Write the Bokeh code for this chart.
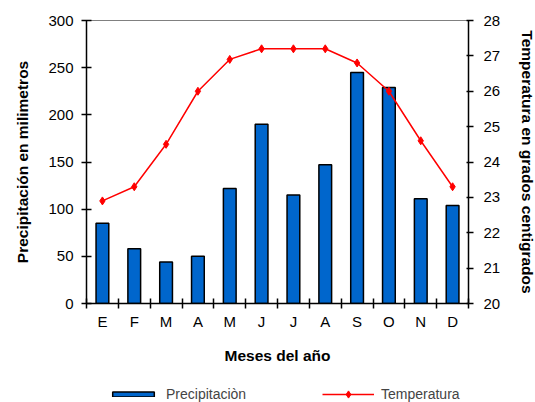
from bokeh.plotting import figure
from bokeh.layouts import column
from bokeh.models import (Range1d, LinearAxis, FixedTicker, Legend, LegendItem)
from bokeh.embed import file_html
from bokeh.resources import INLINE

# Monthly climate data
months = ["E", "F", "M", "A", "M", "J", "J", "A", "S", "O", "N", "D"]
precipitation = [85, 58, 44, 50, 122, 190, 115, 147, 245, 229, 111, 104]
temperature = [22.9, 23.3, 24.5, 26.0, 26.9, 27.2, 27.2, 27.2, 26.8, 26.0, 24.6, 23.3]
precip_ticks = [0, 50, 100, 150, 200, 250, 300]
temp_ticks = [20, 21, 22, 23, 24, 25, 26, 27, 28]

FONT = "Liberation Sans"
BAR_STYLE = dict(fill_color="#0066CC", line_color="black", line_width=1.5)
LINE_STYLE = dict(line_color="#FF0000", line_width=1.5)
MARKER_STYLE = dict(marker="diamond", size=8, fill_color="#FF0000", line_color="#FF0000")

x = list(range(1, len(months) + 1))

p = figure(frame_width=382, frame_height=283, output_backend="svg", toolbar_location=None,
           x_range=Range1d(0.5, len(months) + 0.5), y_range=Range1d(0, 300),
           min_border_left=86, min_border_right=67, min_border_top=20,
           min_border_bottom=62, x_axis_location=None, y_axis_location=None)
p.xgrid.visible = False
p.ygrid.visible = False
p.outline_line_color = "#808080"
p.outline_line_width = 1
p.background_fill_color = "white"
p.border_fill_color = "white"

p.extra_y_ranges = {"temp": Range1d(20, 28)}

# Bars: precipitation
p.vbar(x=x, top=precipitation, width=0.4, **BAR_STYLE)

# Line: temperature on the secondary axis
p.line(x=x, y=temperature, y_range_name="temp", **LINE_STYLE)
p.scatter(x=x, y=temperature, y_range_name="temp", **MARKER_STYLE)

def style_axis(ax):
    ax.axis_line_color = "black"
    ax.axis_line_width = 1.5
    ax.major_tick_line_color = "black"
    ax.major_tick_line_width = 1.5
    ax.minor_tick_line_color = "black"
    ax.minor_tick_line_width = 1.5
    ax.major_label_text_font = FONT
    ax.major_label_text_font_size = "15px"
    ax.major_label_text_color = "black"
    ax.axis_label_text_font = FONT
    ax.axis_label_text_font_size = "15.5px"
    ax.axis_label_text_font_style = "bold"
    ax.axis_label_text_color = "black"

# Bottom axis: month labels at centers, ticks between months
xaxis = LinearAxis(ticker=FixedTicker(ticks=x, minor_ticks=[i + 0.5 for i in range(len(months) + 1)]),
                   axis_label="Meses del año")
xaxis.major_label_overrides = {i + 1: m for i, m in enumerate(months)}
style_axis(xaxis)
xaxis.major_tick_in = 0
xaxis.major_tick_out = 0
xaxis.minor_tick_in = 5
xaxis.minor_tick_out = 5
xaxis.major_label_standoff = 4
xaxis.axis_label_standoff = 14
p.add_layout(xaxis, "below")

# Left axis: precipitation
yaxis = LinearAxis(ticker=FixedTicker(ticks=precip_ticks),
                   axis_label="Precipitación en milimetros")
style_axis(yaxis)
yaxis.major_tick_in = 5
yaxis.major_tick_out = 5
yaxis.minor_tick_line_color = None
yaxis.major_label_standoff = 8
yaxis.axis_label_standoff = 14
p.add_layout(yaxis, "left")

# Right axis: temperature
taxis = LinearAxis(y_range_name="temp", ticker=FixedTicker(ticks=temp_ticks),
                   axis_label="Temperatura en grados centigrados")
style_axis(taxis)
taxis.major_tick_in = 2
taxis.major_tick_out = 5
taxis.minor_tick_line_color = None
taxis.major_label_standoff = 10
taxis.axis_label_standoff = 16
taxis.axis_label_orientation = "vertical"
p.add_layout(taxis, "right")

# Legend strip underneath the chart. Its renderers carry the same data and
# styles as the chart but are hidden, so only their legend keys are drawn.
leg = figure(width=535, height=37, output_backend="svg", toolbar_location=None,
             x_range=Range1d(0, 1), y_range=Range1d(0, 1),
             min_border=0, x_axis_location=None, y_axis_location=None)
leg.xgrid.visible = False
leg.ygrid.visible = False
leg.outline_line_color = None
leg.background_fill_color = "white"
leg.border_fill_color = "white"
bar_key = leg.vbar(x=x, top=precipitation, width=0.4, visible=False, **BAR_STYLE)
line_key = leg.line(x=x, y=temperature, visible=False, **LINE_STYLE)
mark_key = leg.scatter(x=x, y=temperature, visible=False, **MARKER_STYLE)

LEGEND_TEXT = dict(label_text_font=FONT, label_text_font_size="14px",
                   glyph_width=52, label_standoff=7, label_height=18,
                   border_line_color=None, background_fill_alpha=0,
                   margin=0, padding=0, click_policy="none")

# Bar key: a thin box; line key: taller slot so the diamond keeps its size
bar_legend = Legend(items=[LegendItem(label="Precipitaciòn", renderers=[bar_key])],
                    location=(21, 0), glyph_height=6, **LEGEND_TEXT)
temp_legend = Legend(items=[LegendItem(label="Temperatura", renderers=[line_key, mark_key])],
                     location=(236, 0), glyph_height=18, **LEGEND_TEXT)
leg.add_layout(bar_legend, "center")
leg.add_layout(temp_legend, "center")

layout = column(p, leg, spacing=0)
open("out.html", "w").write(file_html(layout, INLINE))
